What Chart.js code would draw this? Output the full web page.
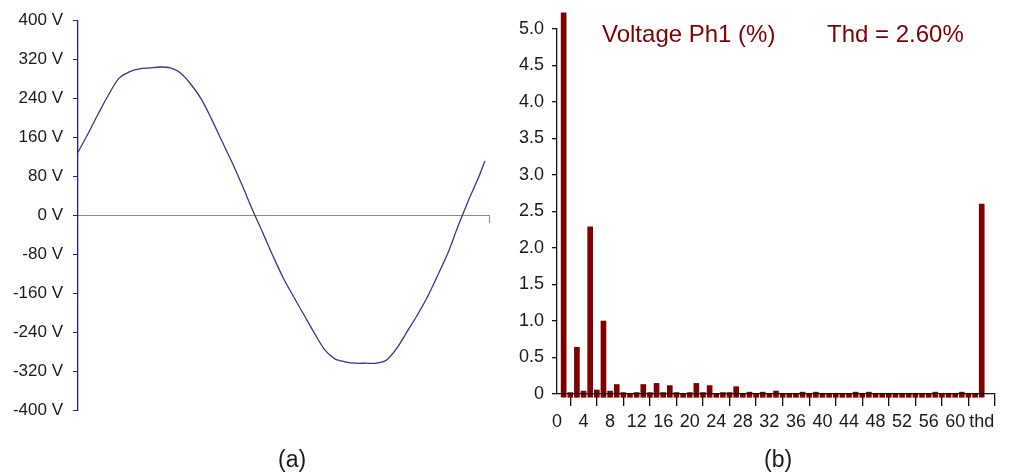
<!DOCTYPE html>
<html>
<head>
<meta charset="utf-8">
<script src="https://cdn.jsdelivr.net/npm/chart.js@4.4.1/dist/chart.umd.min.js"></script>
<style>
  body { margin: 0; background: #fff; width: 1010px; height: 476px; overflow: hidden; position: relative; font-family: "Liberation Sans", Arial, sans-serif; }
  canvas { position: absolute; top: 0; }
  #cWave { left: 0; }
  #cHarm { left: 500px; }
  .txt { position: absolute; white-space: nowrap; line-height: 1; }
  .title { color: #800000; font-size: 24px; top: 22px; }
  .cap { color: #1a1a1a; font-size: 23px; top: 448px; }
</style>
</head>
<body>
<canvas id="cWave" width="500" height="476"></canvas>
<canvas id="cHarm" width="510" height="476"></canvas>
<div class="txt title" style="left:602px">Voltage Ph1 (%)</div>
<div class="txt title" style="left:827px">Thd = 2.60%</div>
<div class="txt cap" style="left:278px">(a)</div>
<div class="txt cap" style="left:764px">(b)</div>
<script>
// (a) onda de tension, una red de 20 ms
var tiempoMs = [0, 0.5, 1, 1.5, 2, 2.5, 3, 3.5, 4, 4.5, 5, 5.5, 6, 6.5, 7, 7.5, 8, 8.5, 9, 9.5,
  10, 10.5, 11, 11.5, 12, 12.5, 13, 13.5, 14, 14.5, 15, 15.5, 16, 16.5, 17, 17.5, 18, 18.5, 19, 19.5, 19.8];
var tensionV = [129, 168, 209, 248, 281, 294, 300, 302, 304, 302, 291, 268, 238, 197, 152, 108, 60, 10, -37, -85,
  -130, -168, -205, -242, -276, -295, -301, -304, -304, -304, -298, -274, -240, -206, -168, -124, -78, -22, 30, 78, 111];
var ticksTension = [-400, -320, -240, -160, -80, 0, 80, 160, 240, 320, 400];

// (b) armonicos 1..63 en %, y la thd al final
var armonicosPct = [5.22, 0.02, 0.64, 0.04, 2.29, 0.055, 1.00, 0.04, 0.13, 0.02,
  0.01, 0.02, 0.13, 0.02, 0.145, 0.02, 0.115, 0.02, 0.01, 0.02,
  0.145, 0.02, 0.115, 0.005, 0.02, 0.02, 0.10, 0.01, 0.025, 0.01,
  0.025, 0.01, 0.04, 0.01, 0.01, 0.01, 0.025, 0.01, 0.025, 0.01,
  0.01, 0.01, 0.01, 0.01, 0.025, 0.01, 0.025, 0.01, 0.01, 0.01,
  0.01, 0.01, 0.01, 0.01, 0.01, 0.01, 0.025, 0.01, 0.01, 0.01,
  0.025, 0.01, 0.01];
var thdPct = 2.60;
var ticksOrden = [0, 4, 8, 12, 16, 20, 24, 28, 32, 36, 40, 44, 48, 52, 56, 60, 64];
var etiquetaThd = 'thd';

var fuente = '"Liberation Sans", Arial, sans-serif';
var negro = '#1a1a1a';
var granate = '#800000';

var puntosOnda = tiempoMs.map(function (t, i) { return { x: t, y: tensionV[i] }; });

new Chart(document.getElementById('cWave').getContext('2d'), {
  type: 'line',
  data: {
    datasets: [{
      data: puntosOnda,
      borderColor: '#363694',
      borderWidth: 1.3,
      pointRadius: 0,
      tension: 0.3,
      fill: false
    }]
  },
  options: {
    responsive: false,
    animation: false,
    devicePixelRatio: 1,
    layout: { padding: { top: 10, bottom: 66, left: 0, right: 11 } },
    plugins: { legend: { display: false }, tooltip: { enabled: false } },
    scales: {
      x: {
        type: 'linear',
        axis: 'x',
        position: { y: 0 },
        min: 0,
        max: 20,
        afterBuildTicks: function (scale) { scale.ticks = [{ value: 20 }]; },
        ticks: { display: false },
        border: { display: true, color: '#8a8a8a', width: 1 },
        grid: { drawOnChartArea: false, drawTicks: true, tickLength: 7, color: '#8a8a8a' }
      },
      y: {
        type: 'linear',
        min: -400,
        max: 400,
        afterFit: function (scale) { scale.width = 78; },
        afterBuildTicks: function (scale) {
          scale.ticks = ticksTension.map(function (v) { return { value: v }; });
        },
        ticks: {
          color: negro,
          padding: 10,
          font: { family: fuente, size: 17 },
          callback: function (v) { return v + ' V'; }
        },
        border: { display: true, color: '#1c1cb0', width: 1.3 },
        grid: { drawOnChartArea: false, tickLength: 5, color: '#1c1cb0' }
      }
    }
  }
});

var barras = armonicosPct.map(function (v, i) { return { x: i + 1, y: v }; });
barras.push({ x: 64, y: thdPct });

new Chart(document.getElementById('cHarm').getContext('2d'), {
  type: 'bar',
  data: {
    datasets: [{
      data: barras,
      backgroundColor: granate,
      borderWidth: 0,
      barThickness: 5,
      base: -0.045,
      clip: false
    }]
  },
  options: {
    responsive: false,
    animation: false,
    devicePixelRatio: 1,
    layout: { padding: { top: 29, bottom: 39, left: 0, right: 15 } },
    plugins: { legend: { display: false }, tooltip: { enabled: false } },
    scales: {
      x: {
        type: 'linear',
        min: 0,
        max: 66,
        offset: false,
        afterFit: function (scale) { scale.height = 43; },
        afterBuildTicks: function (scale) {
          scale.ticks = ticksOrden.map(function (v) { return { value: v }; });
        },
        ticks: {
          color: negro,
          padding: 5,
          maxRotation: 0,
          autoSkip: false,
          font: { family: fuente, size: 18 },
          callback: function (v) { return v === 64 ? etiquetaThd : v; }
        },
        border: { display: true, color: '#111', width: 1.3, z: 1 },
        grid: { drawOnChartArea: false, tickLength: 12, color: '#111', lineWidth: 1.3 }
      },
      y: {
        type: 'linear',
        min: 0,
        max: 5,
        afterFit: function (scale) { scale.width = 57; },
        ticks: {
          stepSize: 0.5,
          color: negro,
          padding: 8,
          font: { family: fuente, size: 18 },
          callback: function (v) { return v === 0 ? '0' : v.toFixed(1); }
        },
        border: { display: true, color: '#111', width: 1.3 },
        grid: { drawOnChartArea: false, tickLength: 5, color: '#111', lineWidth: 1.3 }
      }
    }
  }
});
</script>
</body>
</html>
